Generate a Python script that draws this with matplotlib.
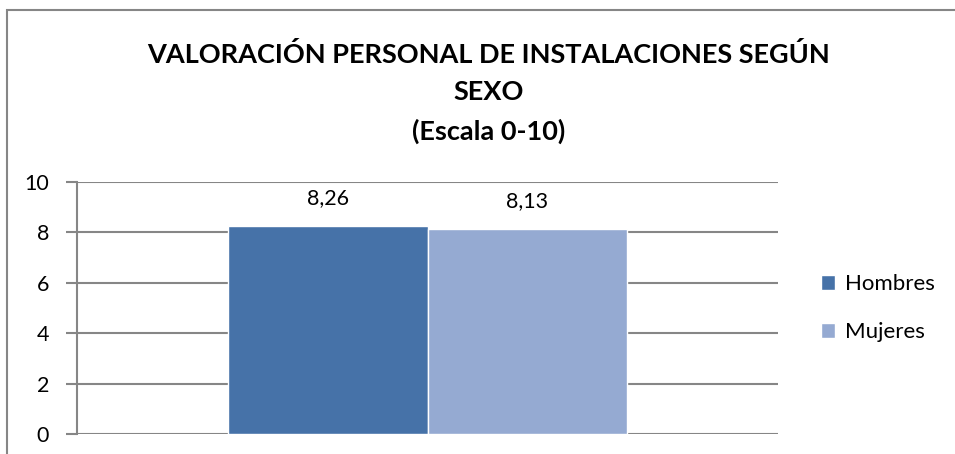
import matplotlib.pyplot as plt
from matplotlib.patches import Rectangle

plt.rcParams['font.family'] = ['Lato', 'DejaVu Sans']

# Datos
series = ["Hombres", "Mujeres"]
valores = [8.26, 8.13]
colores = ["#4672A8", "#95AAD2"]
etiquetas = ["8,26", "8,13"]
yticks = [0, 2, 4, 6, 8, 10]

W, H = 955, 454
fig = plt.figure(figsize=(W / 100, H / 100), dpi=100)
ax = fig.add_axes([77 / W, 1 - 434 / H, (778 - 77) / W, (434 - 182) / H])

gris = "#868686"
ancho = 0.2853
for i, (nombre, v, c, et) in enumerate(zip(series, valores, colores, etiquetas)):
    x = (i - 0.5) * ancho
    ax.bar(x, v, width=ancho, color=c, edgecolor="white", linewidth=1, label=nombre, zorder=3)
    ax.text(x, v + 0.7, et, ha="center", va="bottom", fontsize=15.5, color="black")

ax.set_xlim(-0.5, 0.5)
ax.set_ylim(0, 10)
ax.set_yticks(yticks)
ax.set_yticklabels([str(t) for t in yticks], fontsize=15.5)
ax.set_xticks([])
ax.tick_params(axis="y", direction="out", length=8, width=1.5, color=gris, pad=12)
ax.grid(axis="y", color=gris, linewidth=1.5, zorder=0)
for lado in ["top", "right", "bottom"]:
    ax.spines[lado].set_visible(False)
ax.spines["left"].set_color(gris)
ax.spines["left"].set_linewidth(1.5)

fig.text(489 / W, 1 - 93 / H, "VALORACIÓN PERSONAL DE INSTALACIONES SEGÚN\nSEXO\n(Escala 0-10)",
         ha="center", va="center", fontsize=19.5, fontweight="bold", linespacing=1.65)

ax.legend(loc="center left", bbox_to_anchor=(821 / W, 1 - 308 / H), bbox_transform=fig.transFigure,
          frameon=False, fontsize=16, handlelength=0.65, handleheight=0.65, handletextpad=0.45,
          labelspacing=1.25, borderaxespad=0, borderpad=0)

# Borde del gráfico
fig.patches.append(Rectangle((7 / W, -0.1), 1.2, 1 - 10 / H + 0.1, transform=fig.transFigure,
                             fill=False, edgecolor=gris, linewidth=1.5))

fig.savefig("out.png", dpi=100)
